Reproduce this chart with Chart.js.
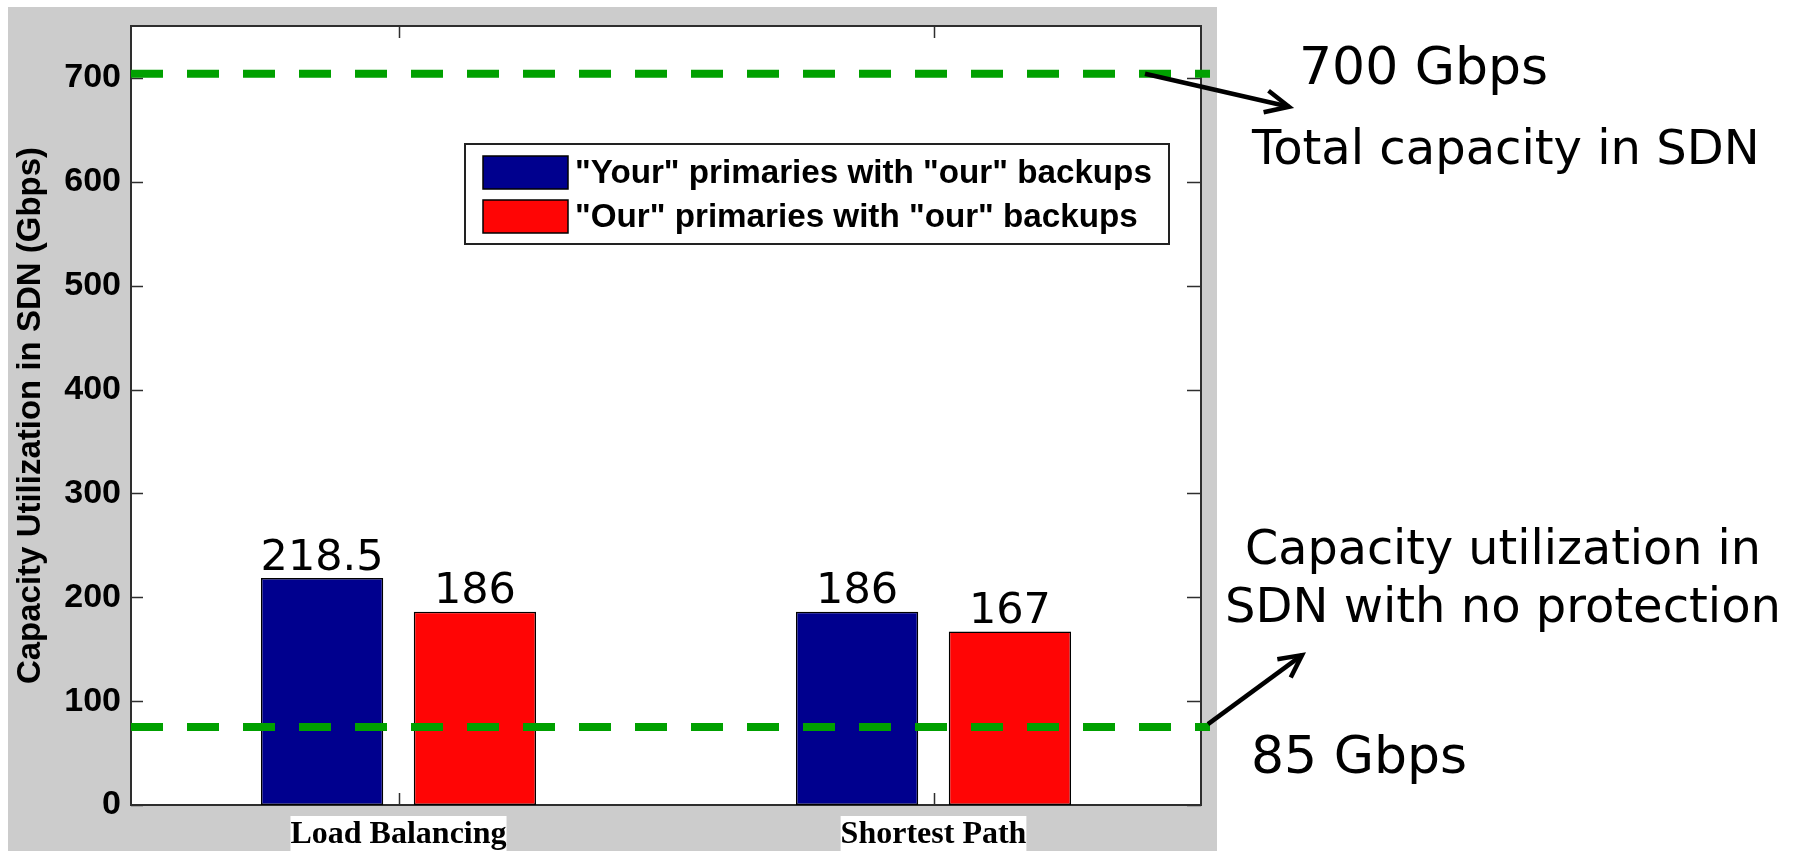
<!DOCTYPE html>
<html>
<head>
<meta charset="utf-8">
<script src="https://cdn.jsdelivr.net/npm/chart.js@4/dist/chart.umd.min.js"></script>
<style>
  html, body { margin: 0; padding: 0; background: #ffffff; overflow: hidden; }
  canvas { display: block; }
</style>
</head>
<body>
<canvas id="chart" width="1802" height="851" style="width:1802px;height:851px"></canvas>
<script>
// ---------------- data ----------------
const categories = ['Load Balancing', 'Shortest Path'];
const seriesNames = ['"Your" primaries with "our" backups', '"Our" primaries with "our" backups'];
const yourPrimariesOurBackups = [218.5, 186];
const ourPrimariesOurBackups = [186, 167];
const yTickValues = [0, 100, 200, 300, 400, 500, 600, 700];
const yAxisTitle = 'Capacity Utilization in SDN (Gbps)';
const referenceLevels = [704, 75];          // dashed green lines, as drawn (total capacity, no protection)
const capacityNotes = ['700 Gbps', 'Total capacity in SDN'];
const noProtectionNotes = ['Capacity utilization in', 'SDN with no protection', '85 Gbps'];

// ---------------- styles ----------------
const BLUE = '#00008e';
const RED = '#ff0505';
const GREEN = '#00a000';
const FRAME = '#2e2e2e';
const labelBoxPadding = [
  { left: 10, right: 16, top: 3, bottom: 30 },
  { left: 17, right: 31, top: 3, bottom: 30 }
];

const framePlugin = {
  id: 'frameAndBackground',
  beforeDraw(chart) {
    const { ctx, chartArea: a, width, height } = chart;
    ctx.save();
    ctx.fillStyle = '#ffffff';
    ctx.fillRect(0, 0, width, height);
    ctx.fillStyle = '#cccccc';
    ctx.fillRect(8, 7, a.right + 16 - 8, height - 7);
    ctx.fillStyle = '#ffffff';
    ctx.fillRect(a.left, a.top, a.right - a.left, a.bottom - a.top);
    ctx.restore();
  },
  beforeDatasetsDraw(chart) {
    const { ctx, chartArea: a } = chart;
    const ys = chart.scales.y, xs = chart.scales.x;
    ctx.save();
    ctx.strokeStyle = FRAME;
    ctx.lineWidth = 1.5;
    ctx.beginPath();
    ys.ticks.forEach(t => {
      const py = Math.round(ys.getPixelForValue(t.value)) + 0.5;
      ctx.moveTo(a.left, py); ctx.lineTo(a.left + 12, py);
      ctx.moveTo(a.right, py); ctx.lineTo(a.right - 14, py);
    });
    xs.ticks.forEach((t, i) => {
      const px = Math.round(xs.getPixelForTick(i)) + 0.5;
      ctx.moveTo(px, a.bottom); ctx.lineTo(px, a.bottom - 12);
      ctx.moveTo(px, a.top); ctx.lineTo(px, a.top + 12);
    });
    ctx.stroke();
    ctx.lineWidth = 2;
    ctx.strokeRect(a.left, a.top, a.right - a.left, a.bottom - a.top);
    ctx.restore();
  }
};

const referenceLinePlugin = {
  id: 'referenceLines',
  afterDatasetsDraw(chart) {
    const { ctx, chartArea: a } = chart;
    const ys = chart.scales.y;
    ctx.save();
    ctx.beginPath();
    ctx.rect(a.left, a.top - 10, a.right - a.left + 9, a.bottom - a.top + 20);
    ctx.clip();
    ctx.strokeStyle = GREEN;
    ctx.lineWidth = 8;
    ctx.lineCap = 'butt';
    ctx.setLineDash([32, 24]);
    referenceLevels.forEach(v => {
      const y = ys.getPixelForValue(v);
      ctx.beginPath();
      ctx.moveTo(a.left, y);
      ctx.lineTo(a.right + 9, y);
      ctx.stroke();
    });
    ctx.restore();
  }
};

const valueLabelPlugin = {
  id: 'valueLabels',
  afterDatasetsDraw(chart) {
    const { ctx } = chart;
    ctx.save();
    ctx.font = '43px "DejaVu Sans", Verdana, sans-serif';
    ctx.fillStyle = '#000';
    ctx.textAlign = 'center';
    ctx.textBaseline = 'alphabetic';
    chart.data.datasets.forEach((ds, i) => {
      const meta = chart.getDatasetMeta(i);
      meta.data.forEach((bar, j) => {
        ctx.fillText(String(ds.data[j]), bar.x, bar.y - 8.5);
      });
    });
    ctx.restore();
  }
};

function drawArrow(ctx, x0, y0, x1, y1, headLen, headAng) {
  const ang = Math.atan2(y1 - y0, x1 - x0);
  ctx.beginPath();
  ctx.moveTo(x0, y0);
  ctx.lineTo(x1, y1);
  ctx.stroke();
  ctx.beginPath();
  ctx.moveTo(x1 - headLen * Math.cos(ang - headAng), y1 - headLen * Math.sin(ang - headAng));
  ctx.lineTo(x1, y1);
  ctx.lineTo(x1 - headLen * Math.cos(ang + headAng), y1 - headLen * Math.sin(ang + headAng));
  ctx.stroke();
}

const overlayPlugin = {
  id: 'legendAndNotes',
  afterDraw(chart) {
    const { ctx, chartArea: a } = chart;
    const ys = chart.scales.y;
    ctx.save();

    // legend box inside plot
    const lx = a.left + 334, ly = 144, lw = 704, lh = 100;
    ctx.fillStyle = '#ffffff';
    ctx.fillRect(lx, ly, lw, lh);
    ctx.strokeStyle = '#222';
    ctx.lineWidth = 2;
    ctx.strokeRect(lx, ly, lw, lh);
    const rowCenters = [172.5, 216.5];
    ctx.font = 'bold 33.2px "Liberation Sans", Arial, sans-serif';
    ctx.textBaseline = 'middle';
    ctx.textAlign = 'left';
    chart.data.datasets.forEach((ds, i) => {
      const cy = rowCenters[i];
      ctx.fillStyle = ds.backgroundColor;
      ctx.fillRect(lx + 18, cy - 16.5, 85, 33);
      ctx.strokeStyle = '#000';
      ctx.lineWidth = 1.5;
      ctx.strokeRect(lx + 18, cy - 16.5, 85, 33);
      ctx.fillStyle = '#000';
      ctx.fillText(ds.label, lx + 110, cy + 1);
    });

    // annotations at right
    ctx.fillStyle = '#000';
    ctx.textBaseline = 'alphabetic';
    ctx.textAlign = 'left';
    ctx.font = '52px "DejaVu Sans", Verdana, sans-serif';
    ctx.fillText(capacityNotes[0], a.right + 98, 84);
    ctx.font = '48px "DejaVu Sans", Verdana, sans-serif';
    ctx.fillText(capacityNotes[1], a.right + 51, 163.5, 512);
    ctx.textAlign = 'center';
    ctx.fillText(noProtectionNotes[0], a.right + 302, 563.5, 516);
    ctx.fillText(noProtectionNotes[1], a.right + 302, 622, 557);
    ctx.textAlign = 'left';
    ctx.font = '52px "DejaVu Sans", Verdana, sans-serif';
    ctx.fillText(noProtectionNotes[2], a.right + 50, 773);

    // arrows
    ctx.strokeStyle = '#000';
    ctx.lineWidth = 4.5;
    ctx.lineJoin = 'miter';
    ctx.lineCap = 'butt';
    const yTop = ys.getPixelForValue(referenceLevels[0]);
    drawArrow(ctx, a.right - 56, yTop, a.right + 88, yTop + 33, 26, 0.44);
    const yLow = ys.getPixelForValue(referenceLevels[1]);
    drawArrow(ctx, a.right + 7, yLow - 3, a.right + 101, yLow - 72, 25, 0.47);

    ctx.restore();
  }
};

const chart = new Chart(document.getElementById('chart'), {
  type: 'bar',
  data: {
    labels: categories,
    datasets: [
      {
        label: seriesNames[0],
        data: yourPrimariesOurBackups,
        backgroundColor: BLUE,
        borderColor: '#000',
        borderWidth: 1.5,
        borderSkipped: false,
        categoryPercentage: 0.5714,
        barPercentage: 0.8
      },
      {
        label: seriesNames[1],
        data: ourPrimariesOurBackups,
        backgroundColor: RED,
        borderColor: '#000',
        borderWidth: 1.5,
        borderSkipped: false,
        categoryPercentage: 0.5714,
        barPercentage: 0.8
      }
    ]
  },
  options: {
    responsive: false,
    animation: false,
    devicePixelRatio: 1,
    layout: { padding: { left: 0, top: 26, right: 601, bottom: 0 } },
    plugins: {
      legend: { display: false },
      tooltip: { enabled: false },
      title: { display: false }
    },
    scales: {
      x: {
        type: 'category',
        offset: true,
        grid: { display: false, drawTicks: false },
        border: { display: false },
        afterFit: s => { s.height = 46; },
        ticks: {
          padding: 11,
          color: '#000',
          maxRotation: 0,
          autoSkip: false,
          font: { family: '"Liberation Serif", "Times New Roman", serif', size: 32, weight: 'bold' },
          showLabelBackdrop: true,
          backdropColor: '#ffffff',
          backdropPadding: ctx => labelBoxPadding[ctx.index] || labelBoxPadding[0]
        }
      },
      y: {
        min: 0,
        max: 750,
        grid: { display: false, drawTicks: false },
        border: { display: false },
        afterFit: s => { s.width = 131; s.paddingTop = 0; s.paddingBottom = 0; },
        afterBuildTicks: s => { s.ticks = yTickValues.map(v => ({ value: v })); },
        ticks: {
          padding: 10,
          color: '#000',
          font: { family: '"Liberation Sans", Arial, sans-serif', size: 34, weight: 'bold' }
        },
        title: {
          display: true,
          text: yAxisTitle,
          color: '#000',
          font: { family: '"Liberation Sans", Arial, sans-serif', size: 33, weight: 'bold' },
          padding: { top: 11, bottom: 0 }
        }
      }
    }
  },
  plugins: [framePlugin, referenceLinePlugin, valueLabelPlugin, overlayPlugin]
});
</script>
</body>
</html>
